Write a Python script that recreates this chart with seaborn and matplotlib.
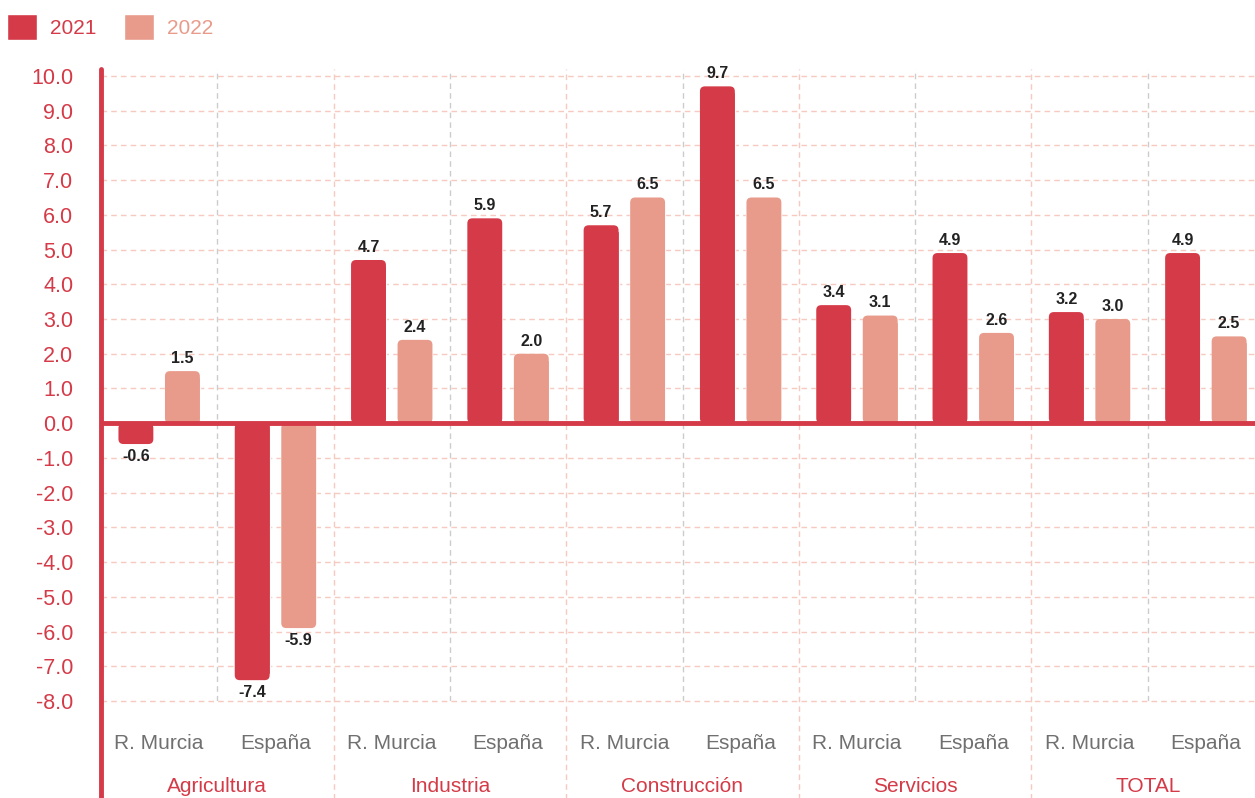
import pandas as pd
import numpy as np
import seaborn as sns
import matplotlib.pyplot as plt
import matplotlib.transforms as mtransforms
from matplotlib.patches import Patch, FancyBboxPatch

# datos
sectores = ["Agricultura", "Industria", "Construcción", "Servicios", "TOTAL"]
regiones = ["R. Murcia", "España"]
anios = ["2021", "2022"]
v2021 = [-0.6, -7.4, 4.7, 5.9, 5.7, 9.7, 3.4, 4.9, 3.2, 4.9]
v2022 = [1.5, -5.9, 2.4, 2.0, 6.5, 6.5, 3.1, 2.6, 3.0, 2.5]

ROJO = "#d43a47"
ROSA = "#e89b8b"
GRIS = "#707070"

claves = [s + "|" + r for s in sectores for r in regiones]
df = pd.DataFrame({
    "clave": claves * 2,
    "anio": ["2021"] * len(claves) + ["2022"] * len(claves),
    "valor": v2021 + v2022,
})

sns.set_theme(style="white")
plt.rcParams["font.family"] = ["Liberation Sans", "DejaVu Sans"]

fig = plt.figure(figsize=(12.55, 7.98), dpi=100)
ax = fig.add_axes([101 / 1255, 97 / 798, 1163 / 1255, 632 / 798])

sns.barplot(data=df, x="clave", y="valor", hue="anio", order=claves,
            hue_order=anios, palette=[ROJO, ROSA], width=0.8, gap=0.25,
            errorbar=None, saturation=1, ax=ax, legend=False, zorder=2)

ax.set_ylim(-8, 10.2)
ax.set_xlim(-0.5, 9.5)

# esquinas redondeadas en el extremo de cada barra
px_x = 1163 / 10.0
px_y = 632 / 18.2
r_x = 5 / px_x
r_y = 5 / px_y
for c in ax.containers:
    for b in c:
        x0, y0, w, h = b.get_x(), b.get_y(), b.get_width(), b.get_height()
        if h >= 0:
            yb, hb = y0, h
        else:
            yb, hb = y0 + h, -h
        rnd = FancyBboxPatch((x0, yb), w, hb,
                             boxstyle=f"round,pad=0,rounding_size={r_x}",
                             mutation_aspect=r_y / r_x,
                             facecolor=b.get_facecolor(), edgecolor="none",
                             zorder=2)
        ax.add_patch(rnd)
        # la base sigue recta
        b.set_height(h - np.sign(h) * min(abs(h), r_y * 1.2))
    ax.bar_label(c, labels=[f"{v:.1f}" for v in c.datavalues], padding=8,
                 fontsize=11.5, fontweight="bold", color="#222222")

ax.set_yticks(np.arange(-8, 11, 1))
ax.set_yticklabels([f"{v:.1f}" for v in np.arange(-8, 11, 1)])
ax.set_xticks(range(len(claves)))
ax.set_xticklabels([c.split("|")[1] for c in claves])
ax.tick_params(axis="y", length=0, pad=20, labelsize=15.5, labelcolor=ROJO)
ax.tick_params(axis="x", length=0, pad=24, labelsize=15, labelcolor=GRIS)
ax.set_xlabel("")
ax.set_ylabel("")

# rejilla
for v in np.arange(-8, 11, 1):
    ax.axhline(v, color="#f6c9c1", lw=1, ls=(0, (4, 3)), zorder=0, clip_on=False)
for i in range(len(claves) - 1):
    x = i + 0.5
    if i % 2 == 0:
        ax.axvline(x, color="#cccccc", lw=1, ls=(0, (4, 3)), zorder=0)
    else:
        ax.axvline(x, ymin=-0.155, ymax=1, color="#f6c9c1", lw=1,
                   ls=(0, (4, 3)), zorder=0, clip_on=False)

for s in ax.spines.values():
    s.set_visible(False)
ax.axvline(-0.5, ymin=-0.155, ymax=1, color=ROJO, lw=3.5, clip_on=False, zorder=4)
ax.axhline(0, color=ROJO, lw=3.5, zorder=3)

# etiquetas de sector
trans = mtransforms.blended_transform_factory(ax.transData, ax.transAxes)
for i, s in enumerate(sectores):
    ax.text(2 * i + 0.5, -0.136, s, transform=trans, ha="center", va="center",
            fontsize=15, color=ROJO)

handles = [Patch(facecolor=ROJO), Patch(facecolor=ROSA)]
fig.legend(handles, anios, loc="upper left", bbox_to_anchor=(-0.0025, 0.996),
           frameon=False, fontsize=15, labelcolor=[ROJO, ROSA], ncol=2,
           handlelength=1.45, handleheight=1.6, handletextpad=0.62,
           columnspacing=1.3, borderaxespad=0.2, borderpad=0.3)

fig.savefig("out.png", dpi=100)
